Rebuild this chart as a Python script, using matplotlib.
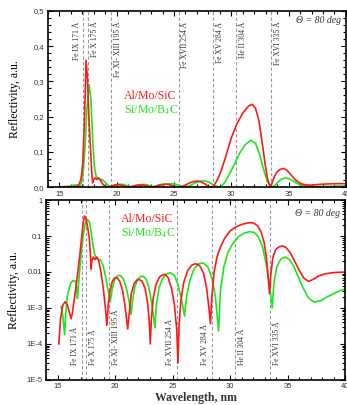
import numpy as np
import matplotlib
matplotlib.use('Agg')
import matplotlib.pyplot as plt
from matplotlib.ticker import FuncFormatter, MultipleLocator, FixedLocator, LogLocator, NullFormatter

plt.rcParams['mathtext.fontset'] = 'stix'

# Al/Mo/SiC reflectivity (wavelength nm, R)
wl_red = [15.10, 15.25, 15.45, 15.65, 15.85, 16.05, 16.18, 16.30, 16.45, 16.60,
          16.75, 16.90, 17.05, 17.20, 17.33, 17.45, 17.60, 17.75, 17.85, 17.90,
          17.97, 18.10, 18.25, 18.40, 18.55, 18.70, 18.85, 19.00, 19.15, 19.28,
          19.40, 19.55, 19.75, 19.95, 20.15, 20.40, 20.65, 20.85, 21.00, 21.09,
          21.20, 21.40, 21.65, 21.90, 22.10, 22.35, 22.60, 22.80, 22.95, 23.05,
          23.15, 23.30, 23.55, 23.85, 24.10, 24.35, 24.60, 24.90, 25.15, 25.35,
          25.46, 25.55, 25.70, 25.95, 26.30, 26.65, 27.00, 27.35, 27.70, 27.95,
          28.15, 28.28, 28.40, 28.60, 28.85, 29.10, 29.50, 30.00, 30.50, 31.00,
          31.50, 31.80, 32.10, 32.40, 32.70, 32.95, 33.15, 33.32, 33.42, 33.52,
          33.70, 33.95, 34.25, 34.55, 34.85, 35.20, 35.60, 36.00, 36.40, 36.80,
          37.20, 37.70, 38.20, 38.80, 39.40, 40.00]
r_red = [1.0e-4, 5e-4, 1.2e-3, 1.5e-3, 1.2e-3, 7e-4, 5e-4, 8e-4, 1.8e-3, 4e-3,
         1.0e-2, 2.5e-2, 7e-2, 0.2, 0.36, 0.31, 0.18, 0.09, 0.03, 0.012,
         0.02, 0.026, 0.022, 0.026, 0.022, 0.013, 0.0065, 0.0028, 1.0e-3, 3.3e-4,
         1.2e-3, 3.0e-3, 5.5e-3, 6.8e-3, 7.0e-3, 5.5e-3, 3.0e-3, 1.2e-3, 4.5e-4, 2.6e-4,
         6e-4, 2.5e-3, 4.8e-3, 6.0e-3, 6.2e-3, 5.5e-3, 3.5e-3, 1.5e-3, 5e-4, 1.0e-4,
         5e-4, 1.8e-3, 4.5e-3, 7.2e-3, 8.3e-3, 8.5e-3, 7.0e-3, 3.5e-3, 1.2e-3, 2.5e-4,
         3e-5, 3e-4, 1.5e-3, 5e-3, 1.1e-2, 1.55e-2, 1.7e-2, 1.5e-2, 9e-3, 3.5e-3,
         1.0e-3, 3.7e-4, 2e-3, 1.0e-2, 2.6e-2, 4.5e-2, 8.5e-2, 0.14, 0.18, 0.21,
         0.23, 0.235, 0.225, 0.19, 0.125, 0.065, 0.025, 6e-3, 2.5e-3, 8e-3,
         0.025, 0.042, 0.05, 0.053, 0.048, 0.035, 0.02, 0.011, 0.0068, 0.0055,
         0.0062, 0.0078, 0.0088, 0.0095, 0.0098, 0.0099]

# Si/Mo/B4C reflectivity
wl_green = [15.30, 15.45, 15.60, 15.72, 15.85, 16.00, 16.15, 16.35, 16.55, 16.65,
            16.72, 16.80, 16.95, 17.10, 17.25, 17.40, 17.60, 17.75, 17.90, 18.05,
            18.20, 18.35, 18.55, 18.75, 18.95, 19.15, 19.35, 19.57, 19.75, 19.95,
            20.20, 20.45, 20.70, 20.95, 21.20, 21.38, 21.50, 21.70, 21.95, 22.20,
            22.45, 22.70, 22.95, 23.20, 23.45, 23.58, 23.80, 24.10, 24.45, 24.80,
            25.15, 25.45, 25.75, 26.03, 26.20, 26.50, 26.85, 27.25, 27.65, 28.05,
            28.40, 28.70, 28.99, 29.15, 29.45, 29.80, 30.20, 30.70, 31.20, 31.70,
            32.10, 32.45, 32.80, 33.15, 33.45, 33.65, 33.80, 34.05, 34.40, 34.75,
            35.10, 35.50, 35.90, 36.30, 36.80, 37.30, 37.90, 38.50, 39.20, 40.00]
r_green = [1.1e-3, 6e-4, 1.8e-4, 8e-4, 2.2e-3, 3.5e-3, 5.0e-3, 5.8e-3, 5.5e-3, 3.5e-3,
           1.85e-3, 4e-3, 1.5e-2, 5.0e-2, 0.12, 0.22, 0.29, 0.25, 0.14, 0.06,
           0.032, 0.024, 0.022, 0.021, 0.015, 0.008, 3.5e-3, 1.5e-3, 3.5e-3, 6.0e-3,
           7.8e-3, 8.0e-3, 6.5e-3, 3.8e-3, 1.6e-3, 6.6e-4, 1.5e-3, 3.8e-3, 6.2e-3, 7.5e-3,
           7.6e-3, 6.2e-3, 3.5e-3, 1.2e-3, 2.8e-4, 1.2e-3, 3.5e-3, 6.5e-3, 8.8e-3, 9.5e-3,
           8.0e-3, 4.5e-3, 1.8e-3, 6e-4, 2.0e-3, 6.0e-3, 1.2e-2, 1.7e-2, 1.8e-2, 1.4e-2,
           7e-3, 2.2e-3, 2.3e-4, 3e-3, 1.4e-2, 3.5e-2, 0.06, 0.095, 0.12, 0.133,
           0.125, 0.095, 0.052, 0.015, 3.5e-3, 1.0e-3, 5e-3, 0.014, 0.023, 0.026,
           0.023, 0.015, 0.0075, 0.0038, 0.0019, 0.00145, 0.0016, 0.0021, 0.0027, 0.0034]

# emission lines (nm) and their labels
line_pos = [17.1, 17.5, 19.5, 25.4, 28.4, 30.4, 33.5]
line_names = ['Fe IX 171 Å', 'Fe X 175 Å', 'Fe XI- XIII 195 Å', 'Fe XVII 254 Å',
              'Fe XV 284 Å', 'He II 304 Å', 'Fe XVI 335 Å']
# label left (-1) or right (1) of its line
top_side = [-1, 1, 1, 1, 1, 1, 1]
bot_side = [-1, 1, 1, -1, -1, 1, 1]

RED = '#ff1a1a'
GREEN = '#1ee61e'
serif = 'Liberation Serif'
sans = 'Liberation Sans'

fig = plt.figure(figsize=(3.47, 4.05), dpi=100)
ax1 = fig.add_axes([0.138, 0.538, 0.859, 0.435])
ax2 = fig.add_axes([0.133, 0.062, 0.862, 0.444])


def style(ax):
    ax.tick_params(which='both', direction='in', top=True, right=True, labelsize=5.5,
                   width=0.8, colors='black', pad=2.5)
    ax.tick_params(which='major', length=3.5)
    ax.tick_params(which='minor', length=2)
    for lab in ax.get_xticklabels() + ax.get_yticklabels():
        lab.set_fontfamily(sans)
        lab.set_color('#333333')
    for s in ax.spines.values():
        s.set_linewidth(1.2)
    ax.set_xlim(14, 40)
    ax.xaxis.set_major_locator(MultipleLocator(5))
    ax.xaxis.set_minor_locator(MultipleLocator(1))


# ---- linear panel
for x in line_pos:
    ax1.axvline(x, color='#9a9a9a', ls=(0, (3, 2)), lw=0.8)
ax1.plot(wl_green, r_green, color=GREEN, lw=1.2)
ax1.plot(wl_red, r_red, color=RED, lw=1.2)
ax1.set_ylim(0, 0.5)
ax1.yaxis.set_major_locator(MultipleLocator(0.1))
ax1.yaxis.set_minor_locator(MultipleLocator(0.02))
ax1.yaxis.set_major_formatter(FuncFormatter(lambda v, p: ('%.1f' % v).replace('.', ',')))
style(ax1)
ax1.set_ylabel('Reflectivity, a.u.', family=serif, fontsize=8.5, labelpad=9)
for x, name, side in zip(line_pos, line_names, top_side):
    ax1.text(x + side * 0.6, 0.47, name, rotation=90, ha='center', va='top',
             family=serif, fontsize=5.5, color='#333333')
ax1.text(39.6, 0.472, 'Θ = 80 deg', ha='right', va='center',
         family=serif, style='italic', fontsize=7, color='#333333')
ax1.text(20.6, 0.258, 'Al/Mo/SiC', color=RED, family=serif, fontsize=8.5, ha='left', va='center')
ax1.text(20.6, 0.218, 'Si/Mo/B$_4$C', color=GREEN, family=serif, fontsize=8.5, ha='left', va='center')

# ---- log panel
for x in line_pos:
    ax2.axvline(x, color='#9a9a9a', ls=(0, (3, 2)), lw=0.8)
ax2.plot(wl_green, r_green, color=GREEN, lw=1.2)
ax2.plot(wl_red, r_red, color=RED, lw=1.2)
ax2.set_yscale('log')
ax2.set_ylim(1e-5, 1)
ax2.yaxis.set_major_locator(FixedLocator([1e-5, 1e-4, 1e-3, 1e-2, 1e-1, 1]))
ax2.yaxis.set_minor_locator(LogLocator(base=10, subs=np.arange(2, 10)))
ax2.yaxis.set_minor_formatter(NullFormatter())
ylabels = {1: '1', 0.1: '0.1', 0.01: '0.01', 1e-3: '1E-3', 1e-4: '1E-4', 1e-5: '1E-5'}
ax2.yaxis.set_major_formatter(FuncFormatter(
    lambda v, p: min(ylabels.items(), key=lambda kv: abs(np.log10(kv[0]) - np.log10(v)))[1]))
style(ax2)
ax2.set_ylabel('Reflectivity, a.u.', family=serif, fontsize=8.5, labelpad=5)
ax2.set_xlabel('Wavelength, nm', family=serif, fontsize=8.5, fontweight='bold',
               color='#333333', labelpad=1)
for x, name, side in zip(line_pos, line_names, bot_side):
    ax2.text(x + side * 0.6, 2.6e-5, name, rotation=90, ha='center', va='bottom',
             family=serif, fontsize=5.5, color='#333333')
ax2.text(39.5, 0.42, 'Θ = 80 deg', ha='right', va='center',
         family=serif, style='italic', fontsize=7, color='#333333')
ax2.text(20.5, 0.3, 'Al/Mo/SiC', color=RED, family=serif, fontsize=8.5, ha='left', va='center')
ax2.text(20.5, 0.12, 'Si/Mo/B$_4$C', color=GREEN, family=serif, fontsize=8.5, ha='left', va='center')

fig.savefig('out.png', dpi=100)
